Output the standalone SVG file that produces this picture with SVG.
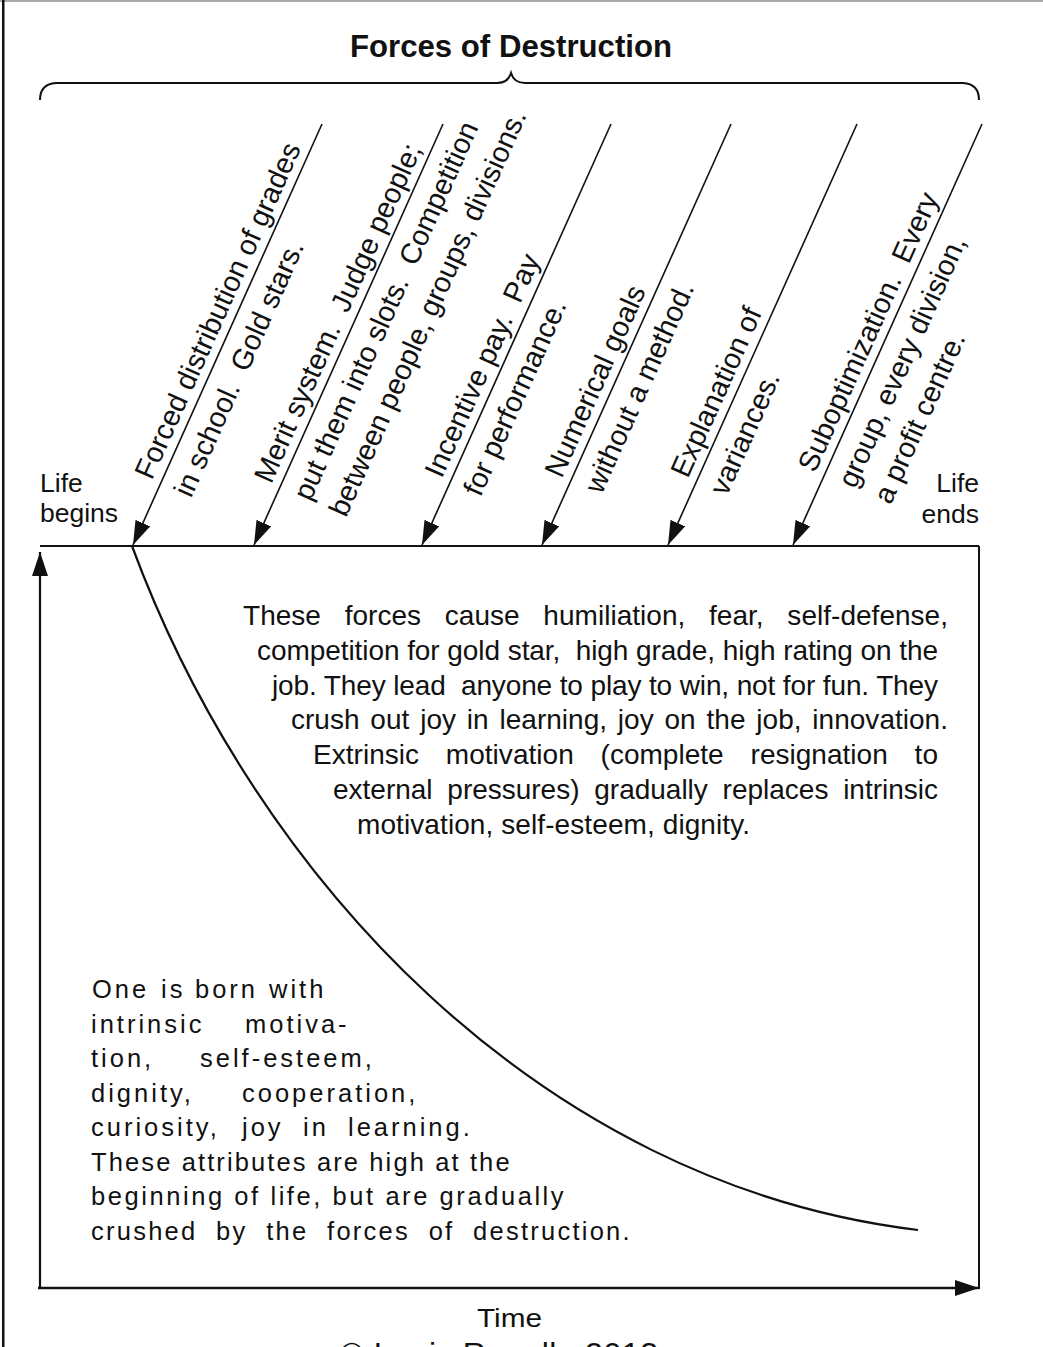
<svg xmlns="http://www.w3.org/2000/svg" width="1043" height="1347" viewBox="0 0 1043 1347">
<style>
text { font-family: "Liberation Sans", Arial, sans-serif; fill: #111; }
.title { font-size: 32px; font-weight: bold; }
.lbl { font-size: 28.8px; }
.body { font-size: 28px; }
.born { font-size: 25.5px; letter-spacing: 3px; }
.born2 { font-size: 25.5px; letter-spacing: 2.4px; }
.side { font-size: 26.5px; }
.ln { stroke: #111; fill: none; }
.force { stroke: #111; stroke-width: 1.6; fill: none; marker-end: url(#ah); }
</style>
<defs>
<marker id="ah" markerUnits="userSpaceOnUse" markerWidth="24" markerHeight="16" viewBox="0 0 24 16" refX="24" refY="8" orient="auto"><path d="M0,0 L24,8 L0,16 z" fill="#111"/></marker>
</defs>
<rect x="0" y="0" width="1043" height="2" fill="#aaa"/>
<rect x="2" y="0" width="2.5" height="1347" fill="#111"/>

<g id="title">
<text class="title" x="350" y="57" textLength="322" lengthAdjust="spacingAndGlyphs">Forces of Destruction</text>
<path class="ln" stroke-width="2" d="M40,100 Q40,84 56,83 L497,83 Q508,83 511,73 Q514,83 525,83 L963,83 Q979,84 979,100"/>
</g>

<g id="connectors">
<line class="force" x1="322" y1="124" x2="133" y2="545"/>
<line class="force" x1="443" y1="124" x2="254" y2="545"/>
<line class="force" x1="611" y1="124" x2="422" y2="545"/>
<line class="force" x1="731" y1="124" x2="542" y2="545"/>
<line class="force" x1="857" y1="124" x2="668" y2="545"/>
<line class="force" x1="982" y1="124" x2="793" y2="545"/>
<line class="ln" stroke-width="1.8" x1="40" y1="546" x2="979" y2="546"/>
<line class="ln" stroke-width="2" x1="979" y1="546" x2="979" y2="1289"/>
<line class="ln" stroke-width="2.2" x1="40" y1="1288" x2="40" y2="552" marker-end="url(#ah)"/>
<line class="ln" stroke-width="2.6" x1="38" y1="1288" x2="979" y2="1288" marker-end="url(#ah)"/>
<path class="ln" stroke-width="2.2" d="M132,546 C254,876 538,1184 918,1230"/>
</g>

<g id="force1" transform="translate(133,545) rotate(-65.82)">
<text class="lbl" x="66" y="-9">Forced distribution of grades</text>
<text class="lbl" x="66" y="34">in school.&#160; Gold stars.</text>
</g>
<g id="force2" transform="translate(254,545) rotate(-65.82)">
<text class="lbl" x="62" y="-9">Merit system.&#160; Judge people;</text>
<text class="lbl" x="62" y="34">put them into slots.&#160; Competition</text>
<text class="lbl" x="62" y="73">between people, groups, divisions.</text>
</g>
<g id="force3" transform="translate(422,545) rotate(-65.82)">
<text class="lbl" x="68" y="-9">Incentive pay.&#160; Pay</text>
<text class="lbl" x="67" y="34">for performance.</text>
</g>
<g id="force4" transform="translate(542,545) rotate(-65.82)">
<text class="lbl" x="68" y="-9">Numerical goals</text>
<text class="lbl" x="70" y="34">without a method.</text>
</g>
<g id="force5" transform="translate(668,545) rotate(-65.82)">
<text class="lbl" x="68" y="-9">Explanation of</text>
<text class="lbl" x="68" y="34">variances.</text>
</g>
<g id="force6" transform="translate(793,545) rotate(-65.82)">
<text class="lbl" x="74" y="-9">Suboptimization.&#160; Every</text>
<text class="lbl" x="76" y="34">group, every division,</text>
<text class="lbl" x="76" y="73">a profit centre.</text>
</g>

<g id="life-begins">
<text class="side" x="40" y="492">Life</text>
<text class="side" x="40" y="522">begins</text>
</g>
<g id="life-ends">
<text class="side" x="979" y="492" text-anchor="end">Life</text>
<text class="side" x="979" y="523" text-anchor="end">ends</text>
</g>

<g id="effects">
<text class="body" x="243" y="625" textLength="705" lengthAdjust="spacing" word-spacing="15.9">These forces cause humiliation, fear, self-defense,</text>
<text class="body" x="257" y="660" textLength="681" lengthAdjust="spacing">competition for gold star,&#160; high grade, high rating on the</text>
<text class="body" x="272" y="695" textLength="666" lengthAdjust="spacing">job. They lead&#160; anyone to play to win, not for fun. They</text>
<text class="body" x="291" y="729" textLength="657" lengthAdjust="spacing" word-spacing="3">crush out joy in learning, joy on the job, innovation.</text>
<text class="body" x="313" y="764" textLength="625" lengthAdjust="spacing" word-spacing="19">Extrinsic motivation (complete resignation to</text>
<text class="body" x="333" y="799" textLength="605" lengthAdjust="spacing" word-spacing="7">external pressures) gradually replaces intrinsic</text>
<text class="body" x="357" y="834" textLength="393" lengthAdjust="spacing">motivation, self-esteem, dignity.</text>
</g>

<g id="born">
<text class="born" y="998"><tspan x="92">One</tspan><tspan x="161">is</tspan><tspan x="195">born</tspan><tspan x="269">with</tspan></text>
<text class="born" y="1033"><tspan x="91">intrinsic</tspan><tspan x="245">motiva-</tspan></text>
<text class="born" y="1067"><tspan x="91">tion,</tspan><tspan x="200">self-esteem,</tspan></text>
<text class="born" y="1102"><tspan x="91">dignity,</tspan><tspan x="242">cooperation,</tspan></text>
<text class="born" y="1136"><tspan x="91">curiosity,</tspan><tspan x="242">joy</tspan><tspan x="303">in</tspan><tspan x="348">learning.</tspan></text>
<text class="born2" x="91" y="1171" textLength="421" lengthAdjust="spacing">These attributes are high at the</text>
<text class="born2" x="91" y="1205" textLength="475" lengthAdjust="spacing">beginning of life, but are gradually</text>
<text class="born2" x="91" y="1240" textLength="541" lengthAdjust="spacing">crushed&#160; by&#160; the&#160; forces&#160; of&#160; destruction.</text>
</g>

<g id="time">
<text class="side" x="477" y="1327" textLength="65" lengthAdjust="spacingAndGlyphs">Time</text>
</g>
<g id="copyright">
<text x="340" y="1365" font-size="32" textLength="318" lengthAdjust="spacing">© Louis Rouelle 2013</text>
</g>
</svg>
